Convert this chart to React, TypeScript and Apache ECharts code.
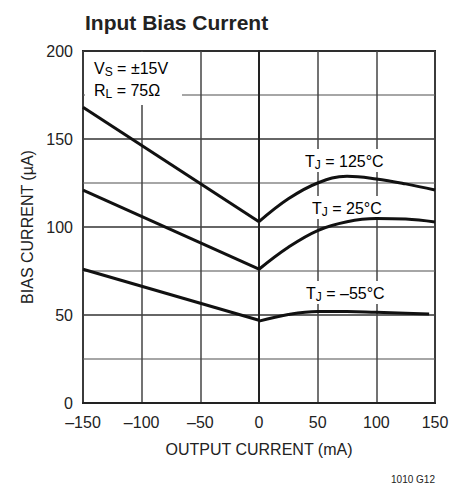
import React, { useEffect, useRef } from "react";
import * as echarts from "echarts";

const FONT = "'Liberation Sans', Arial, sans-serif";

const xTicks = [-150, -100, -50, 0, 50, 100, 150];
const yTicks = [0, 50, 100, 150, 200];

// left (linear) branches: output current -150 .. 0
const leftX = [-150, 0];
const t125Left = [168, 103];
const t25Left = [121, 76];
const tm55Left = [76, 47];

// right (curved) branches
const rightX = [0, 25, 50, 75, 100, 125, 150];
const t125Right = [103, 116, 125, 128.8, 127.3, 124.5, 121];
const t25Right = [76, 88.5, 98, 103, 104.8, 104.5, 102.8];
const rightXm55 = [0, 25, 50, 75, 100, 125, 145];
const tm55Right = [46.5, 50.3, 52, 52, 51.5, 51, 50.6];

const pairs = (xs: number[], ys: number[]) => xs.map((x, i) => [x, ys[i]]);

export default function App() {
  const ref = useRef<HTMLDivElement>(null);
  useEffect(() => {
    if (!ref.current) return;
    const chart = echarts.init(ref.current, undefined, { renderer: "svg" });
    const lineStyle = { color: "#111", width: 3 };
    const mk = (name: string, data: number[][], smooth: boolean | number) => ({
      type: "line",
      name,
      data,
      smooth,
      showSymbol: false,
      symbol: "none",
      lineStyle,
      z: 5,
    });
    const sub = { fontSize: 12, fontFamily: FONT, color: "#222", padding: [8, 0, 0, 0] };
    const main = { fontSize: 16, fontFamily: FONT, color: "#222" };
    chart.setOption({
      animation: false,
      title: {
        text: "Input Bias Current",
        left: 80,
        top: 7,
        textStyle: { fontFamily: FONT, fontWeight: "bold", fontSize: 21, color: "#222" },
      },
      grid: {
        left: 83,
        top: 51,
        width: 352,
        height: 352,
        show: true,
        borderColor: "#222",
        borderWidth: 2,
        backgroundColor: "transparent",
      },
      xAxis: {
        type: "value",
        min: -150,
        max: 150,
        interval: 50,
        name: "OUTPUT CURRENT (mA)",
        nameLocation: "middle",
        nameGap: 38,
        nameTextStyle: { fontFamily: FONT, fontSize: 16, color: "#222" },
        axisLine: { show: true, lineStyle: { color: "#222", width: 2 } },
        axisTick: { show: false },
        splitLine: { show: true, lineStyle: { color: "#444", width: 1.5 } },
        axisLabel: {
          margin: 11,
          fontFamily: FONT,
          fontSize: 16,
          color: "#222",
          formatter: (v: number) => (xTicks.includes(v) ? (v < 0 ? "–" + Math.abs(v) : String(v)) : ""),
        },
      },
      yAxis: {
        type: "value",
        min: 0,
        max: 200,
        interval: 25,
        name: "BIAS CURRENT (µA)",
        nameLocation: "middle",
        nameGap: 45,
        nameTextStyle: { fontFamily: FONT, fontSize: 16, color: "#222" },
        axisLine: { show: true, lineStyle: { color: "#222", width: 2 } },
        axisTick: { show: false },
        splitLine: { show: true, lineStyle: { color: ["#333", "#888"], width: 1.5 } },
        axisLabel: {
          margin: 10,
          fontFamily: FONT,
          fontSize: 16,
          color: "#222",
          formatter: (v: number) => (yTicks.includes(v) ? String(v) : ""),
        },
      },
      graphic: [
        { type: "rect", shape: { x: 85, y: 52, width: 97, height: 53 }, style: { fill: "#fff" }, z: 3 },
        {
          type: "text",
          x: 94,
          y: 58,
          z: 4,
          style: {
            text: "{m|V}{s|S}{m| = ±15V}",
            rich: { m: main, s: sub },
          },
        },
        {
          type: "text",
          x: 94,
          y: 80,
          z: 4,
          style: {
            text: "{m|R}{s|L}{m| = 75Ω}",
            rich: { m: main, s: sub },
          },
        },
        { type: "rect", shape: { x: 302, y: 149, width: 84, height: 23 }, style: { fill: "#fff" }, z: 3 },
        {
          type: "text",
          x: 305,
          y: 151,
          z: 4,
          style: { text: "{m|T}{s|J}{m| = 125°C}", rich: { m: main, s: sub } },
        },
        { type: "rect", shape: { x: 309, y: 196, width: 76, height: 23 }, style: { fill: "#fff" }, z: 3 },
        {
          type: "text",
          x: 312,
          y: 198,
          z: 4,
          style: { text: "{m|T}{s|J}{m| = 25°C}", rich: { m: main, s: sub } },
        },
        { type: "rect", shape: { x: 303, y: 281, width: 86, height: 23 }, style: { fill: "#fff" }, z: 3 },
        {
          type: "text",
          x: 306,
          y: 283,
          z: 4,
          style: { text: "{m|T}{s|J}{m| = –55°C}", rich: { m: main, s: sub } },
        },
        {
          type: "text",
          x: 435,
          y: 474,
          style: { text: "1010 G12", fontFamily: FONT, fontSize: 10, fill: "#222", align: "right" },
        },
      ],
      series: [
        mk("125L", pairs(leftX, t125Left), false),
        mk("125R", pairs(rightX, t125Right), 0.4),
        mk("25L", pairs(leftX, t25Left), false),
        mk("25R", pairs(rightX, t25Right), 0.4),
        mk("-55L", pairs(leftX, tm55Left), false),
        mk("-55R", pairs(rightXm55, tm55Right), 0.4),
      ],
    });
    return () => chart.dispose();
  }, []);
  return <div ref={ref} style={{ width: 466, height: 487, position: "absolute", left: 0, top: 0 }} />;
}
